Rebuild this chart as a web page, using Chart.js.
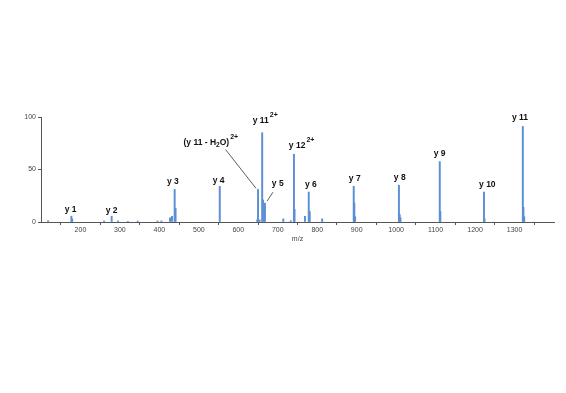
<!DOCTYPE html>
<html>
<head>
<meta charset="utf-8">
<script src="https://cdn.jsdelivr.net/npm/chart.js@4/dist/chart.umd.min.js"></script>
<style>
  html, body { margin: 0; padding: 0; background: #fff; }
  #wrap { position: relative; width: 566px; height: 393px; }
</style>
</head>
<body>
<div id="wrap"><canvas id="spectrum"></canvas></div>
<script>
  // peak list (m/z, relative intensity %)
  var peakMz = [118, 177, 179, 260, 279, 295, 320, 345, 395, 405, 427, 432, 438.7, 441,
    553, 648, 650, 654, 660.5, 662.5, 667.5, 714, 733, 741, 742.5, 769, 778.5, 781, 812.5,
    892.5, 894, 896, 1007, 1009, 1011, 1110.5, 1112, 1222.5, 1224, 1321, 1322.5, 1324.5];
  var peakIntensity = [1.2, 5.5, 3, 1, 5.5, 1, 0.6, 1, 1, 1, 4, 5.5, 31, 13,
    34, 2, 31, 2, 85, 21, 18, 3, 1.2, 64.5, 12, 5.5, 28.5, 10, 3,
    34, 18, 5, 35, 7, 4, 57.5, 10, 28.5, 3, 91, 14, 5];

  var xTicks = [200, 300, 400, 500, 600, 700, 800, 900, 1000, 1100, 1200, 1300];
  var yTicks = [0, 50, 100];

  // ion labels: text pieces, anchor (m/z, intensity) at text centre / baseline
  var ionLabels = [
    { parts: [["y 1"]], mz: 175, at: 9.3 },
    { parts: [["y 2"]], mz: 279, at: 9 },
    { parts: [["y 3"]], mz: 434, at: 36 },
    { parts: [["y 4"]], mz: 550, at: 36.7 },
    { parts: [["(y 11 - H"], ["2", "sub"], ["O)"], ["2+", "sup"]], mz: 519, at: 73 },
    { parts: [["y 11"], ["2+", "sup"]], mz: 657, at: 94 },
    { parts: [["y 5"]], mz: 700, at: 34 },
    { parts: [["y 12"], ["2+", "sup"]], mz: 749, at: 70.7 },
    { parts: [["y 6"]], mz: 784, at: 33.4 },
    { parts: [["y 7"]], mz: 895, at: 39 },
    { parts: [["y 8"]], mz: 1009, at: 39.8 },
    { parts: [["y 9"]], mz: 1110, at: 63 },
    { parts: [["y 10"]], mz: 1231, at: 33.4 },
    { parts: [["y 11"]], mz: 1314, at: 97 }
  ];

  // leader lines from a label to its peak
  var leaders = [
    { mz1: 567.7, at1: 69, mz2: 645, at2: 32 },
    { mz1: 688, at1: 28.4, mz2: 673, at2: 20 }
  ];

  var FONT = "Arial, 'Liberation Sans', sans-serif";

  function partFont(p) {
    if (p[1] === "sup") return "bold 7px " + FONT;
    if (p[1] === "sub") return "bold 6.5px " + FONT;
    return "bold 8.5px " + FONT;
  }

  var labelPlugin = {
    id: "ionLabels",
    afterDatasetsDraw: function (chart) {
      var ctx = chart.ctx;
      var xs = chart.scales.x;
      var ys = chart.scales.y;
      ctx.save();
      ctx.fillStyle = "#111";
      ctx.textBaseline = "alphabetic";

      ionLabels.forEach(function (lb) {
        var mainW = 0;
        var widths = [];
        lb.parts.forEach(function (p) {
          ctx.font = partFont(p);
          var w = ctx.measureText(p[0]).width;
          widths.push(w);
          if (p[1] !== "sup") mainW += w;
        });
        var x = xs.getPixelForValue(lb.mz) - mainW / 2;
        var y = ys.getPixelForValue(lb.at);
        lb.parts.forEach(function (p, i) {
          ctx.font = partFont(p);
          var dy = p[1] === "sup" ? -6 : p[1] === "sub" ? 2 : 0;
          ctx.fillText(p[0], x + (p[1] === "sup" ? 1 : 0), y + dy);
          x += widths[i];
        });
      });

      ctx.strokeStyle = "#333";
      ctx.lineWidth = 0.8;
      leaders.forEach(function (l) {
        ctx.beginPath();
        ctx.moveTo(xs.getPixelForValue(l.mz1), ys.getPixelForValue(l.at1));
        ctx.lineTo(xs.getPixelForValue(l.mz2), ys.getPixelForValue(l.at2));
        ctx.stroke();
      });
      ctx.restore();
    }
  };

  var canvas = document.getElementById("spectrum");
  canvas.width = 566;
  canvas.height = 393;

  new Chart(canvas, {
    type: "bar",
    data: {
      datasets: [{
        data: peakMz.map(function (m, i) { return { x: m, y: peakIntensity[i] }; }),
        backgroundColor: "#5b8fd4",
        borderWidth: 0,
        barThickness: 1.3
      }]
    },
    options: {
      responsive: false,
      animation: false,
      layout: { padding: { left: 0, top: 117, right: 12, bottom: 147 } },
      plugins: { legend: { display: false }, tooltip: { enabled: false } },
      scales: {
        x: {
          type: "linear",
          min: 100,
          max: 1400,
          offset: false,
          afterBuildTicks: function (s) {
            s.ticks = [100].concat(xTicks, [1400]).map(function (v) { return { value: v }; });
          },
          afterFit: function (s) { s.height = 24; },
          border: { display: true, color: "#555", width: 1 },
          grid: { drawOnChartArea: false, drawTicks: true, tickLength: 3, color: "#555" },
          ticks: {
            autoSkip: false,
            maxRotation: 0,
            padding: 1,
            color: "#444",
            font: { family: FONT, size: 7 },
            callback: function (v) { return xTicks.indexOf(v) >= 0 ? String(v) : ""; }
          },
          title: {
            display: true,
            text: "m/z",
            color: "#444",
            font: { family: FONT, size: 7 },
            padding: { top: 1, bottom: 3 }
          }
        },
        y: {
          min: 0,
          max: 100,
          afterBuildTicks: function (s) {
            s.ticks = yTicks.map(function (v) { return { value: v }; });
          },
          afterFit: function (s) { s.width = 41; },
          border: { display: true, color: "#555", width: 1 },
          grid: { drawOnChartArea: false, drawTicks: true, tickLength: 3, color: "#555" },
          ticks: {
            padding: 2,
            color: "#444",
            font: { family: FONT, size: 7 }
          }
        }
      }
    },
    plugins: [labelPlugin]
  });
</script>
</body>
</html>
